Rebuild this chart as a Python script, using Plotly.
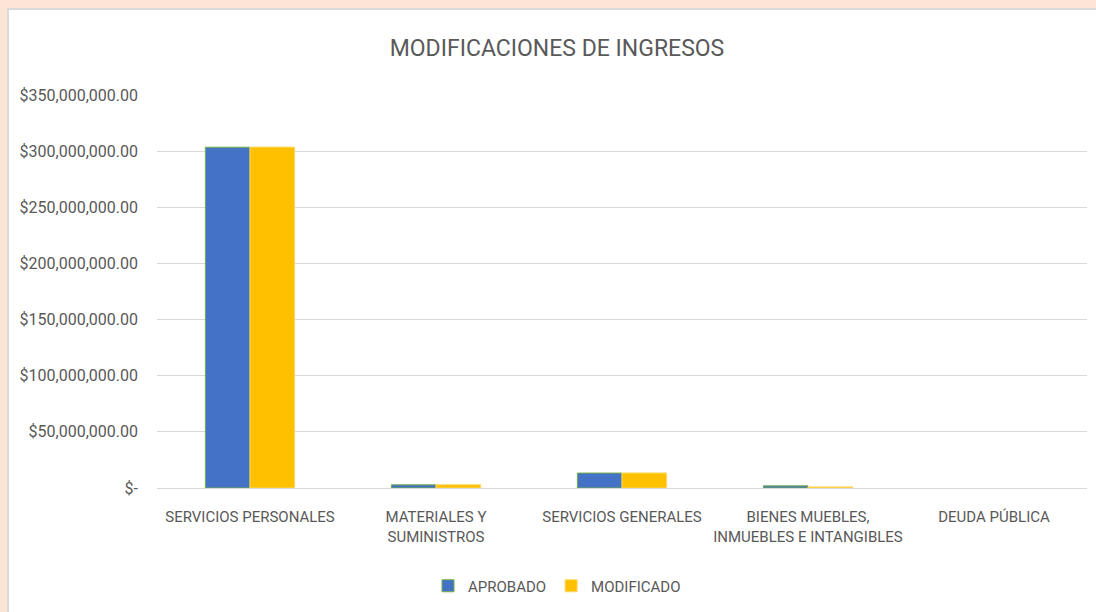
import plotly.graph_objects as go

categories = ["SERVICIOS PERSONALES", "MATERIALES Y<br>SUMINISTROS", "SERVICIOS GENERALES",
              "BIENES MUEBLES,<br>INMUEBLES E INTANGIBLES", "DEUDA PÚBLICA"]
aprobado = [303_500_000, 2_800_000, 13_300_000, 1_900_000, 0]
modificado = [303_600_000, 2_900_000, 13_400_000, 1_000_000, 0]
tick_vals = [0, 50_000_000, 100_000_000, 150_000_000, 200_000_000, 250_000_000, 300_000_000, 350_000_000]
tick_text = ["$-", "$50,000,000.00", "$100,000,000.00", "$150,000,000.00", "$200,000,000.00",
             "$250,000,000.00", "$300,000,000.00", "$350,000,000.00"]

FONT = "Roboto, sans-serif"
W, H = 1096, 612
L, R, T, B = 157, 9, 95, 124
pw, ph = W - L - R, H - T - B

outline_w = [1 if v > 0 else 0 for v in aprobado]
outline_w2 = [1 if v > 0 else 0 for v in modificado]

fig = go.Figure()
fig.add_trace(go.Bar(name="APROBADO", x=categories, y=aprobado,
                     marker=dict(color="#4472C4", line=dict(color="#70AD47", width=outline_w))))
fig.add_trace(go.Bar(name="MODIFICADO", x=categories, y=modificado,
                     marker=dict(color="#FFC000", line=dict(color="#FFD966", width=outline_w2))))

fig.add_shape(type="rect", xref="paper", yref="paper", layer="below",
              x0=(8 - L) / pw, x1=(W + 5 - L) / pw,
              y0=-(B + 5) / ph, y1=(H - B - 9) / ph,
              fillcolor="white", line=dict(color="#D9D9D9", width=2))

fig.update_layout(
    width=W, height=H,
    margin=dict(l=L, r=R, t=T, b=B, autoexpand=False),
    paper_bgcolor="#FCE4D6", plot_bgcolor="white",
    barmode="group", bargap=0.52, bargroupgap=0,
    font=dict(family=FONT, color="#595959", size=16),
    title=dict(text="MODIFICACIONES DE INGRESOS", x=557 / W, xanchor="center",
               y=1 - 48 / H, yanchor="middle",
               font=dict(family=FONT, size=23, color="#595959")),
    showlegend=True,
    legend=dict(orientation="h", x=(428 - L) / pw, xanchor="left", y=-(586 - (H - B)) / ph,
                yanchor="middle", font=dict(family=FONT, size=15, color="#595959"),
                bgcolor="rgba(0,0,0,0)", itemwidth=30, traceorder="normal"),
    xaxis=dict(showgrid=False, showline=True, linecolor="#D9D9D9", linewidth=1,
               ticks="", tickangle=0, ticklabelstandoff=15,
               tickfont=dict(family=FONT, size=15, color="#595959")),
    yaxis=dict(range=[0, 350_000_000], tickvals=tick_vals, ticktext=tick_text,
               showgrid=True, gridcolor="#D9D9D9", gridwidth=1, zeroline=False,
               showline=False, ticks="", ticklabelstandoff=18,
               tickfont=dict(family=FONT, size=16, color="#595959")),
)

fig.write_html("out.html", config={"displayModeBar": False},
               post_script="document.body.style.margin='0';document.body.style.background='#FCE4D6';")
